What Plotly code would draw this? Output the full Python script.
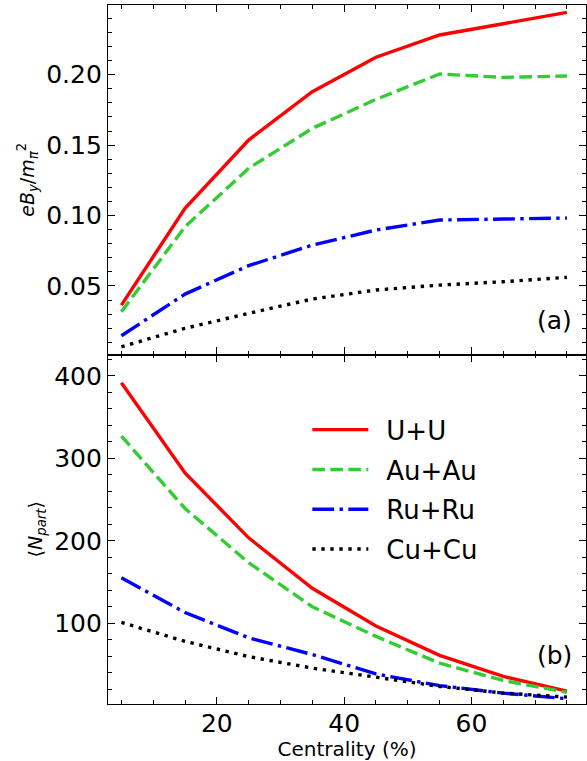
import plotly.graph_objects as go
from plotly.subplots import make_subplots

centrality = [5, 15, 25, 35, 45, 55, 65, 75]
systems = ["U+U", "Au+Au", "Ru+Ru", "Cu+Cu"]

eBy_UU = [0.0364, 0.1051, 0.1536, 0.1879, 0.2124, 0.2282, 0.2362, 0.2443]
eBy_AuAu = [0.0317, 0.0920, 0.1335, 0.1619, 0.1825, 0.2005, 0.1981, 0.1991]
eBy_RuRu = [0.0146, 0.0442, 0.0644, 0.0790, 0.0897, 0.0968, 0.0975, 0.0982]
eBy_CuCu = [0.0068, 0.0199, 0.0305, 0.0407, 0.0471, 0.0506, 0.0530, 0.0561]

Npart_UU = [391.8, 282.3, 203.6, 142.4, 96.7, 61.0, 35.4, 17.6]
Npart_AuAu = [327.1, 239.2, 173.4, 120.0, 84.0, 51.5, 30.5, 16.2]
Npart_RuRu = [155.2, 113.0, 82.3, 62.0, 38.5, 24.3, 15.2, 8.4]
Npart_CuCu = [101.0, 78.0, 59.5, 45.5, 34.6, 23.3, 15.3, 10.4]

x_ticks = [20, 40, 60]
top_ticks = [0.05, 0.10, 0.15, 0.20]
bottom_ticks = [100, 200, 300, 400]

colors = ["#ff0000", "#32cd32", "#0000ff", "#000000"]
dashes = ["solid", "12.6px,5.4px", "21.8px,5.4px,3.4px,5.4px", "3.4px,5.6px"]
LW = 3.4

FONT = "DejaVu Sans"

fig = make_subplots(rows=2, cols=1, shared_xaxes=True, vertical_spacing=0)

top_series = [eBy_UU, eBy_AuAu, eBy_RuRu, eBy_CuCu]
bot_series = [Npart_UU, Npart_AuAu, Npart_RuRu, Npart_CuCu]

for name, ys, c, d in zip(systems, top_series, colors, dashes):
    fig.add_trace(go.Scatter(x=centrality, y=ys, mode="lines", name=name,
                             line=dict(color=c, width=LW, dash=d),
                             showlegend=False), row=1, col=1)
for name, ys, c, d in zip(systems, bot_series, colors, dashes):
    fig.add_trace(go.Scatter(x=centrality, y=ys, mode="lines", name="\u2002" + name,
                             legendgroup=name,
                             line=dict(color=c, width=LW, dash=d),
                             showlegend=True), row=2, col=1)

axis_common = dict(
    showline=True, linecolor="black", linewidth=1.3, mirror="allticks",
    ticks="inside", ticklen=7, tickwidth=1.2, tickcolor="black",
    showgrid=False, zeroline=False, automargin=False,
    tickfont=dict(family=FONT, size=25, color="black"),
)

fig.update_xaxes(**axis_common, range=[2.9, 78], tickvals=x_ticks,
                 minor=dict(dtick=5, tick0=0, ticks="inside", ticklen=3.5,
                            tickwidth=1, tickcolor="black"))
fig.update_xaxes(showticklabels=False, row=1, col=1)
fig.update_xaxes(ticklabelstandoff=-3,
                 title=dict(text="Centrality (%)", font=dict(family=FONT, size=20, color="black"),
                            standoff=10), row=2, col=1)

fig.update_yaxes(**axis_common)
fig.update_yaxes(range=[0.0013, 0.2495], tickvals=top_ticks, tickformat=".2f",
                 minor=dict(dtick=0.01, tick0=0, ticks="inside", ticklen=3.5,
                            tickwidth=1, tickcolor="black"),
                 title=dict(text="<i>eB</i><sub><i>y</i></sub>/<i>m</i><sub><i>π</i></sub><sup>2</sup>",
                            font=dict(family=FONT, size=19, color="black"), standoff=6),
                 row=1, col=1)
fig.update_yaxes(range=[2, 426], tickvals=bottom_ticks,
                 minor=dict(dtick=20, tick0=0, ticks="inside", ticklen=3.5,
                            tickwidth=1, tickcolor="black"),
                 title=dict(text="⟨<i>N</i><sub><i>part</i></sub>⟩",
                            font=dict(family=FONT, size=19, color="black"), standoff=6),
                 row=2, col=1)

fig.add_annotation(text="(a)", xref="x2 domain", yref="y domain", x=0.975, y=0.098,
                   xanchor="right", yanchor="middle", showarrow=False,
                   font=dict(family=FONT, size=25, color="black"))
fig.add_annotation(text="(b)", xref="x2 domain", yref="y2 domain", x=0.975, y=0.138,
                   xanchor="right", yanchor="middle", showarrow=False,
                   font=dict(family=FONT, size=25, color="black"))

fig.update_layout(
    width=587, height=761,
    margin=dict(l=108, r=1, t=5, b=57),
    paper_bgcolor="white", plot_bgcolor="white",
    font=dict(family=FONT, color="black"),
    legend=dict(x=0.417, y=0.426, xanchor="left", yanchor="top",
                font=dict(family=FONT, size=26, color="black"),
                bgcolor="rgba(0,0,0,0)", borderwidth=0, itemwidth=56,
                tracegroupgap=3),
)

fig.write_html("out.html",
               config={"displayModeBar": False},
               post_script="document.body.style.margin='0';document.body.style.padding='0';")
